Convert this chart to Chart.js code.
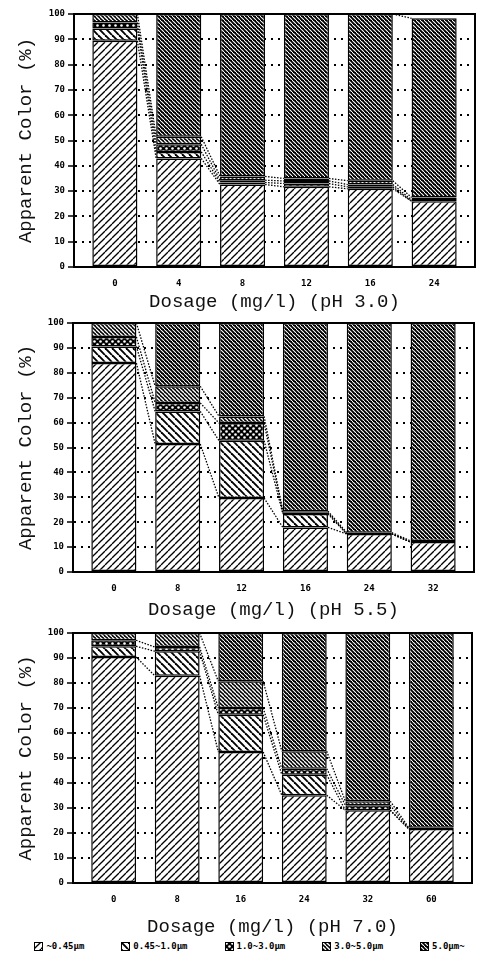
<!DOCTYPE html>
<html>
<head>
<meta charset="utf-8">
<script src="https://cdn.jsdelivr.net/npm/chart.js@4/dist/chart.umd.min.js"></script>
<style>
  body { margin: 0; background: #fff; }
  #wrap { position: relative; width: 499px; height: 960px; overflow: hidden; }
  canvas.panel { position: absolute; left: 0; }
  #legend {
    position: absolute; left: 0; top: 940px; width: 499px; height: 12px;
    display: flex; justify-content: center; align-items: center; gap: 37px;
    font: bold 9px "DejaVu Sans Mono", monospace; color: #000;
  }
  #legend span.item { display: flex; align-items: center; gap: 3px; white-space: nowrap; }
  #legend canvas { display: block; }
</style>
</head>
<body>
<div id="wrap">
  <canvas id="ph30" class="panel" width="499" height="313" style="top:0px"></canvas>
  <canvas id="ph55" class="panel" width="499" height="308" style="top:313px"></canvas>
  <canvas id="ph70" class="panel" width="499" height="317" style="top:621px"></canvas>
  <div id="legend"></div>
</div>
<script>
// Particle size classes, bottom of the stack to the top
const sizeClasses = ['~0.45μm', '0.45~1.0μm', '1.0~3.0μm', '3.0~5.0μm', '5.0μm~'];
const yTicks = [0, 10, 20, 30, 40, 50, 60, 70, 80, 90, 100];

// pH 3.0
const dosesPH30 = ['0', '4', '8', '12', '16', '24'];
const ph30Under045 = [89.4, 42.9, 32.6, 31.7, 30.9, 26.0];
const ph30From045 = [4.9, 2.6, 0.8, 1.3, 0.8, 0];
const ph30From10 = [2.3, 3.0, 0.9, 1.0, 0.9, 0.5];
const ph30From30 = [3.4, 3.0, 1.5, 1.0, 1.5, 1.0];
const ph30Over50 = [0, 48.5, 64.2, 65.0, 65.9, 70.8];

// pH 5.5
const dosesPH55 = ['0', '8', '12', '16', '24', '32'];
const ph55Under045 = [83.9, 51.4, 29.7, 17.9, 15.3, 12.0];
const ph55From045 = [6.7, 13.1, 23.0, 5.4, 0, 0];
const ph55From10 = [3.8, 3.4, 7.1, 0.5, 0, 0];
const ph55From30 = [5.6, 6.7, 2.7, 0.6, 0.5, 0.5];
const ph55Over50 = [0, 25.4, 37.5, 75.6, 84.2, 87.5];

// pH 7.0
const dosesPH70 = ['0', '8', '16', '24', '32', '60'];
const ph70Under045 = [90.4, 82.9, 52.4, 35.1, 29.1, 21.6];
const ph70From045 = [4.3, 9.8, 14.9, 8.2, 0, 0];
const ph70From10 = [2.4, 1.7, 2.7, 2.4, 2.0, 0];
const ph70From30 = [2.9, 5.6, 10.7, 7.0, 1.6, 0.5];
const ph70Over50 = [0, 0, 19.3, 47.3, 67.3, 77.9];

// Hatch fills, one per size class
function hatch(size, draw) {
  const c = document.createElement('canvas');
  c.width = c.height = size;
  const g = c.getContext('2d');
  draw(g, size);
  return g.createPattern(c, 'repeat');
}

function diag(g, s, up) {
  // repeatable diagonal line across the tile
  for (let o = -s; o <= s; o += s) {
    g.beginPath();
    if (up) { g.moveTo(o, s); g.lineTo(o + s, 0); }
    else { g.moveTo(o, 0); g.lineTo(o + s, s); }
    g.stroke();
  }
}

const patterns = [
  hatch(7, (g, s) => {
    g.fillStyle = '#fff'; g.fillRect(0, 0, s, s);
    g.strokeStyle = '#000'; g.lineWidth = 1.3; diag(g, s, true);
  }),
  hatch(7, (g, s) => {
    g.fillStyle = '#fff'; g.fillRect(0, 0, s, s);
    g.strokeStyle = '#000'; g.lineWidth = 1.9; diag(g, s, false);
  }),
  hatch(6, (g, s) => {
    g.fillStyle = '#000'; g.fillRect(0, 0, s, s);
    g.fillStyle = '#fff';
    [[1.5, 1.5], [4.5, 4.5]].forEach(([x, y]) => {
      g.beginPath(); g.arc(x, y, 1.3, 0, Math.PI * 2); g.fill();
    });
  }),
  hatch(4, (g, s) => {
    g.fillStyle = '#000'; g.fillRect(0, 0, s, s);
    g.strokeStyle = '#fff'; g.lineWidth = 1.3; diag(g, s, false);
  }),
  hatch(4, (g, s) => {
    g.fillStyle = '#000'; g.fillRect(0, 0, s, s);
    g.strokeStyle = '#fff'; g.lineWidth = 1.1; diag(g, s, false);
    g.fillStyle = '#000'; g.fillRect(0, 0, s, 1);
    g.fillStyle = '#fff'; g.fillRect(0, 0, 1, 1);
  })
];

// Dotted lines joining the same size boundary of neighbouring bars
const connectorPlugin = {
  id: 'connectors',
  afterDatasetsDraw(chart) {
    const ctx = chart.ctx;
    ctx.save();
    ctx.strokeStyle = '#000';
    ctx.lineWidth = 1.3;
    ctx.setLineDash([1.5, 1.5]);
    chart.data.datasets.forEach((ds, k) => {
      const bars = chart.getDatasetMeta(k).data;
      for (let i = 0; i < bars.length - 1; i++) {
        const a = bars[i], b = bars[i + 1];
        ctx.beginPath();
        ctx.moveTo(a.x + a.width / 2, a.y);
        ctx.lineTo(b.x - b.width / 2, b.y);
        ctx.stroke();
      }
    });
    ctx.restore();
  }
};

// Box round the plot area
const framePlugin = {
  id: 'frame',
  afterDraw(chart) {
    const {left, top, right, bottom} = chart.chartArea;
    const ctx = chart.ctx;
    ctx.save();
    ctx.strokeStyle = '#000';
    ctx.lineWidth = 2;
    ctx.strokeRect(left, top, right - left, bottom - top);
    ctx.restore();
  }
};

const tickFont = { family: '"DejaVu Sans Mono", monospace', size: 9, weight: 'bold' };
const titleFont = { family: '"Liberation Mono", monospace', size: 19 };

function makeDatasets(series) {
  return series.map((vals, k) => ({
    label: sizeClasses[k],
    data: vals.map((v, i) => ({ x: i, y: v })),
    backgroundColor: patterns[k],
    borderColor: '#000',
    borderWidth: 1.5,
    borderSkipped: false,
    categoryPercentage: 1,
    barPercentage: 0.706
  }));
}

function buildPanel(id, doses, series, xTitle, box) {
  const canvas = document.getElementById(id);
  return new Chart(canvas, {
    type: 'bar',
    data: { datasets: makeDatasets(series) },
    options: {
      responsive: false,
      animation: false,
      devicePixelRatio: 1,
      layout: { padding: { top: box.top, right: canvas.width - box.right, left: 0, bottom: 0 } },
      plugins: { legend: { display: false }, tooltip: { enabled: false } },
      scales: {
        x: {
          type: 'linear',
          stacked: true,
          offset: false,
          min: -0.64,
          max: doses.length - 1 + 0.64,
          grid: { display: false, drawTicks: false },
          border: { display: false },
          ticks: {
            stepSize: 1, includeBounds: false, autoSkip: false, maxRotation: 0,
            padding: 11, font: tickFont, color: '#000',
            callback: v => Number.isInteger(v) ? doses[v] : ''
          },
          title: { display: true, text: xTitle, font: titleFont, color: '#111', padding: 0 },
          afterFit: s => { s.height = canvas.height - box.bottom; }
        },
        y: {
          stacked: true,
          min: yTicks[0],
          max: yTicks[yTicks.length - 1],
          afterBuildTicks: s => { s.ticks = yTicks.map(v => ({ value: v })); },
          ticks: { padding: 3, font: tickFont, color: '#000' },
          grid: { color: '#000', lineWidth: 2, tickColor: '#000', tickWidth: 1.5, tickLength: 6, tickBorderDash: [] },
          border: { display: true, color: '#000', width: 2, dash: [2, 5] },
          title: { display: true, text: 'Apparent Color (%)', font: titleFont, color: '#111', padding: { top: 15, bottom: 0 } },
          afterFit: s => { s.width = box.left; }
        }
      }
    },
    plugins: [connectorPlugin, framePlugin]
  });
}

buildPanel('ph30', dosesPH30,
  [ph30Under045, ph30From045, ph30From10, ph30From30, ph30Over50],
  'Dosage (mg/l) (pH 3.0)', { top: 14, bottom: 267, left: 74, right: 475 });

buildPanel('ph55', dosesPH55,
  [ph55Under045, ph55From045, ph55From10, ph55From30, ph55Over50],
  'Dosage (mg/l) (pH 5.5)', { top: 10, bottom: 259, left: 73, right: 474 });

buildPanel('ph70', dosesPH70,
  [ph70Under045, ph70From045, ph70From10, ph70From30, ph70Over50],
  'Dosage (mg/l) (pH 7.0)', { top: 12, bottom: 262, left: 73, right: 472 });

// Legend under the last panel
const legend = document.getElementById('legend');
sizeClasses.forEach((name, k) => {
  const item = document.createElement('span');
  item.className = 'item';
  const sw = document.createElement('canvas');
  sw.width = 9; sw.height = 9;
  const g = sw.getContext('2d');
  g.fillStyle = patterns[k];
  g.fillRect(0, 0, 9, 9);
  g.strokeStyle = '#000';
  g.lineWidth = 1;
  g.strokeRect(0.5, 0.5, 8, 8);
  const label = document.createElement('span');
  label.textContent = name;
  item.appendChild(sw);
  item.appendChild(label);
  legend.appendChild(item);
});
</script>
</body>
</html>
